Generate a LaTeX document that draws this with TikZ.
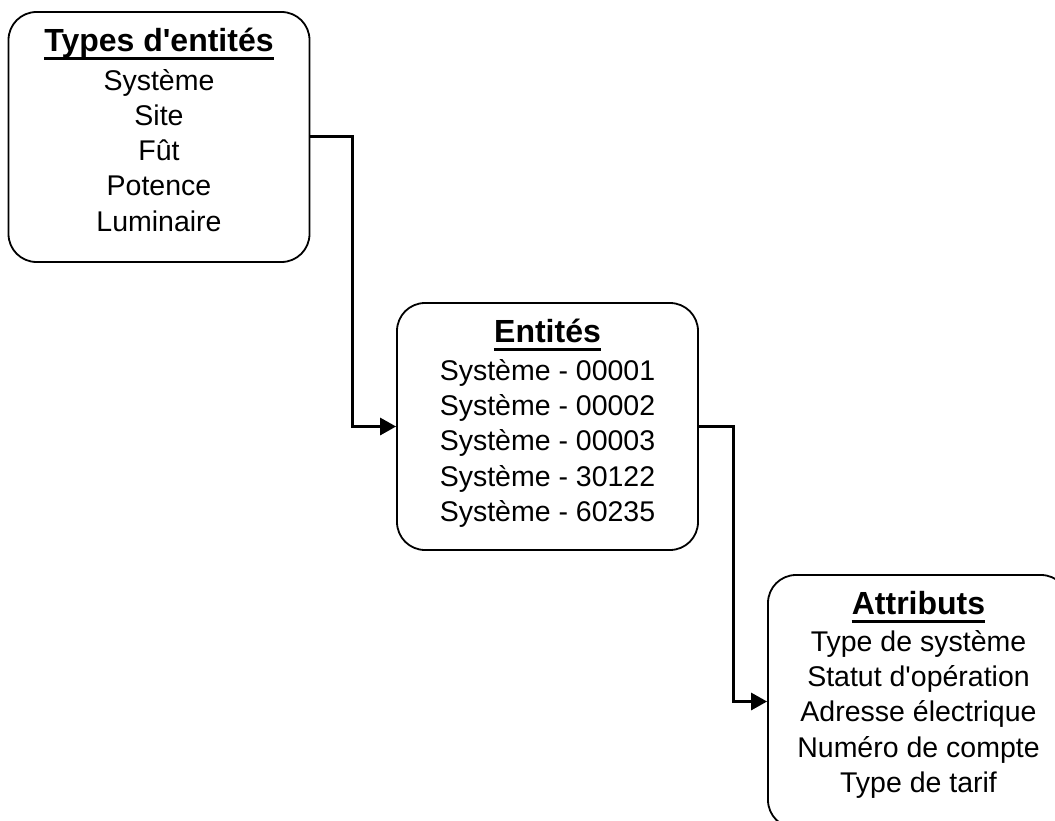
\documentclass[tikz,border=0pt]{standalone}
\usepackage{fontspec}
\setmainfont{Liberation Sans}
\newfontfamily\af{Liberation Sans}
\usetikzlibrary{arrows.meta}
\begin{document}
\begin{tikzpicture}[x=1pt,y=-1pt,
  box/.style={draw=black,line width=1.8pt,rounded corners=28pt,minimum width=301pt,inner sep=0pt},
  ttl/.style={anchor=base,inner sep=0pt,font=\af\fontsize{32}{36}\selectfont\bfseries},
  itm/.style={anchor=base,inner sep=0pt,font=\af\fontsize{28.5}{34}\selectfont},
  uline/.style={line width=3pt},
  conn/.style={line width=3pt,-{Triangle[length=16pt,width=17pt]}}]
\useasboundingbox (0,0) rectangle (1055,821);
\clip (0,0) rectangle (1055,821);
\fill[white] (0,0) rectangle (1055,821);
% boxes
\node[box,minimum height=250pt] (t) at (159,137) {};
\node[box,minimum height=247pt] (e) at (547.5,426.5) {};
\node[box,minimum height=253pt] (a) at (918.5,701.5) {};
% titles
\node[ttl] (tt) at ([yshift=-40pt]t.north) {Types d'entités};
\node[ttl] (et) at ([yshift=-40pt]e.north) {Entités};
\node[ttl] (at) at ([yshift=-40pt]a.north) {Attributs};
\foreach \n in {tt,et,at}{
  \draw[uline] ([yshift=-7pt]\n.base west) -- ([yshift=-7pt]\n.base east);
}
% items
\foreach \txt [count=\i from 0] in {Système,Site,Fût,Potence,Luminaire}{
  \node[itm] (t\i) at ([yshift=-79pt-35.3pt*\i]t.north) {\txt};
}
\foreach \txt [count=\i from 0] in {Système - 00001,Système - 00002,Système - 00003,Système - 30122,Système - 60235}{
  \node[itm] (e\i) at ([yshift=-78pt-35.3pt*\i]e.north) {\txt};
}
\foreach \txt [count=\i from 0] in {Type de système,Statut d'opération,Adresse électrique,Numéro de compte,Type de tarif}{
  \node[itm] (a\i) at ([yshift=-77pt-35.3pt*\i]a.north) {\txt};
}
% connectors
\draw[conn] (t.east) -- ++(42,0) |- (e.west);
\draw[conn] (e.east) -- ++(35,0) |- (a.west);
\end{tikzpicture}
\end{document}
